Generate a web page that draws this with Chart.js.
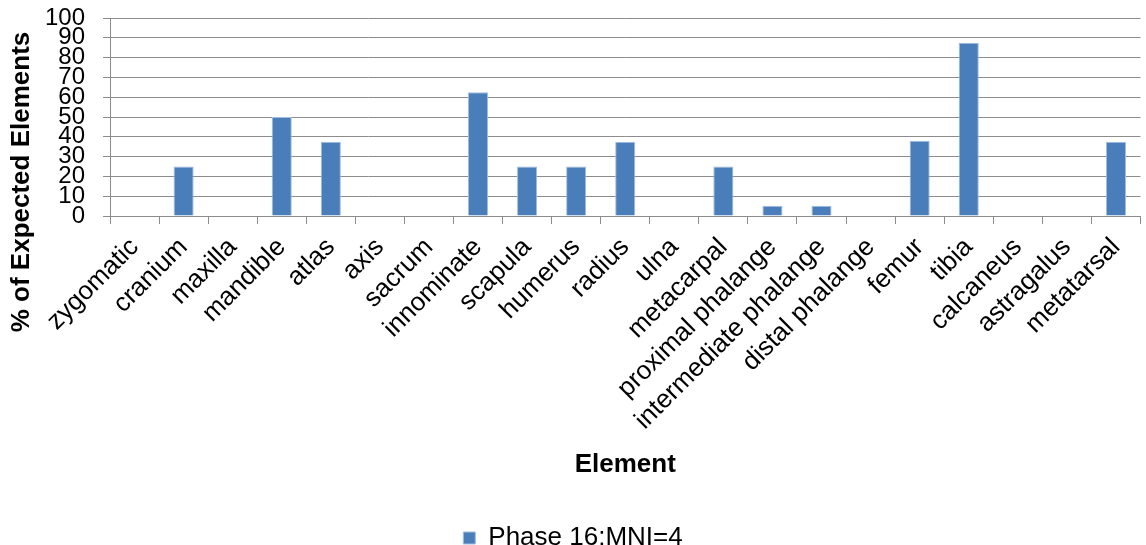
<!DOCTYPE html>
<html>
<head>
<meta charset="utf-8">
<title>% of Expected Elements</title>
<script src="https://cdn.jsdelivr.net/npm/chart.js@4/dist/chart.umd.min.js"></script>
<style>
  html, body { margin: 0; padding: 0; background: #fff; overflow: hidden; }
  #wrap { width: 1146px; height: 545px; position: relative; }
</style>
</head>
<body>
<div id="wrap"><canvas id="chart"></canvas></div>
<script>
const elements = [
  "zygomatic", "cranium", "maxilla", "mandible", "atlas", "axis", "sacrum",
  "innominate", "scapula", "humerus", "radius", "ulna", "metacarpal",
  "proximal phalange", "intermediate phalange", "distal phalange",
  "femur", "tibia", "calcaneus", "astragalus", "metatarsal"
];
const phase16 = [
  0, 25, 0, 50, 37.5, 0, 0,
  62.5, 25, 25, 37.5, 0, 25,
  5.2, 5.2, 0,
  38, 87.5, 0, 0, 37.5
];
const seriesLabel = "Phase 16:MNI=4";
const yTitle = "% of Expected Elements";
const xTitle = "Element";

const gridGrey = "#8c8c8c";
Chart.defaults.font.family = "'Liberation Sans', Arial, sans-serif";
Chart.defaults.color = "#000";

// y title sits lower than the plot centre in the original, so draw it by hand
const yTitlePlugin = {
  id: "yTitle",
  afterDraw(chart) {
    const ctx = chart.ctx;
    ctx.save();
    ctx.translate(22, 182);
    ctx.rotate(-Math.PI / 2);
    ctx.font = "bold 26px 'Liberation Sans', Arial, sans-serif";
    ctx.fillStyle = "#000";
    ctx.textAlign = "center";
    ctx.textBaseline = "middle";
    ctx.fillText(yTitle, 0, 0);
    ctx.restore();
  }
};

new Chart(document.getElementById("chart").getContext("2d"), {
  type: "bar",
  data: {
    labels: elements,
    datasets: [
      {
        label: seriesLabel,
        data: phase16,
        backgroundColor: "#4a7ebb",
        borderColor: "#a3bde0",
        borderWidth: 1,
        barPercentage: 0.41,
        categoryPercentage: 1.0,
      },
    ],
  },
  options: {
    responsive: true,
    maintainAspectRatio: false,
    animation: false,
    devicePixelRatio: 1,
    layout: {
      padding: { top: 18, left: 0, right: 0, bottom: -16 },
    },
    scales: {
      y: {
        min: 0,
        max: 100,
        ticks: {
          stepSize: 10,
          autoSkip: false,
          padding: 18,
          font: { size: 24 },
          color: "#000",
        },
        grid: {
          color: gridGrey,
          tickLength: 7,
        },
        border: { color: gridGrey },
        afterFit(scale) {
          scale.width = 110;
          // labels may overhang the plot like in the original
          scale.paddingTop = 0;
          scale.paddingBottom = 0;
        },
      },
      x: {
        ticks: {
          autoSkip: false,
          minRotation: 45,
          maxRotation: 45,
          padding: 8,
          font: { size: 26 },
          color: "#000",
        },
        grid: {
          drawOnChartArea: false,
          drawTicks: true,
          tickLength: 8,
          color: gridGrey,
        },
        border: { color: gridGrey },
        title: {
          display: true,
          text: xTitle,
          font: { size: 26, weight: "bold" },
          color: "#000",
          padding: { top: 0, bottom: 35 },
        },
        afterFit(scale) {
          scale.height = 299;
        },
      },
    },
    plugins: {
      legend: {
        display: true,
        position: "bottom",
        labels: {
          boxWidth: 12,
          boxHeight: 12,
          padding: 10,
          font: { size: 26 },
          color: "#000",
        },
      },
      tooltip: { enabled: false },
    },
  },
  plugins: [yTitlePlugin],
});
</script>
</body>
</html>
